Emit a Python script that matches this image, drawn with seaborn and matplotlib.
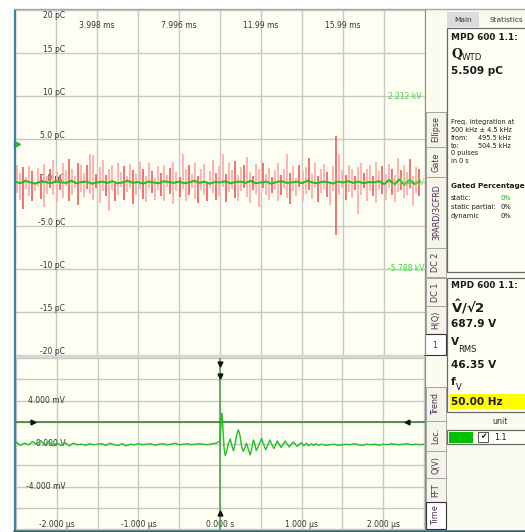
import numpy as np
import matplotlib
matplotlib.use("Agg")
import matplotlib.pyplot as plt
import seaborn as sns
from matplotlib.patches import Rectangle
from matplotlib.transforms import offset_copy

sns.set_theme(style="white")
plt.rcParams["font.family"] = ["DejaVu Sans"]
plt.rcParams["mathtext.fontset"] = "dejavusans"

# ---------------- data ----------------
# PD pulse charges (pC) in 0.15 ms slots over one 20 ms cycle
pulse_slot_ms = 0.15
pulse_up_pc = [
    2.0, 1.1, 1.8, 0.6, 1.9, 1.3, 0.0, 1.7, 1.0, 2.1, 0.7, 1.5,
    2.6, 1.2, 0.9, 2.2, 1.4, 2.7, 1.6, 0.8, 2.3, 2.0, 1.1, 2.0,
    3.3, 3.2, 1.0, 1.8, 2.6, 0.9, 1.5, 2.0, 0.0, 2.3, 1.2, 1.9,
    0.7, 2.1, 1.4, 1.0, 2.4, 1.6, 0.8, 2.2, 1.3, 0.5, 1.9, 1.1,
    2.0, 0.9, 1.7, 2.4, 1.2, 0.6, 3.3, 1.5, 2.0, 1.0, 2.3, 0.8,
    1.6, 2.1, 0.0, 1.3, 2.6, 1.1, 1.9, 3.3, 1.0, 2.2, 1.4, 2.5,
    0.9, 1.8, 2.0, 2.9, 1.2, 0.7, 2.1, 1.5, 2.3, 1.0, 1.7, 0.6,
    1.4, 2.2, 0.9, 1.6, 3.3, 1.1, 1.9, 0.5, 2.0, 1.3, 1.8, 2.8,
    1.0, 2.3, 0.8, 1.5, 2.1, 1.2, 0.0, 1.9, 5.4, 3.3, 1.4, 0.9,
    2.0, 1.6, 0.7, 1.8, 2.2, 1.1, 1.5, 2.0, 0.8, 2.4, 1.3, 1.9,
    1.0, 2.1, 1.6, 0.9, 2.8, 1.4, 2.0, 1.2, 2.7, 0.8, 1.8, 1.5,
]
pulse_down_pc = [
    -1.2, -2.0, -3.1, -0.8, -1.6, -2.2, -1.0, -0.5, -1.9, -2.9, -1.3, -0.7,
    -1.5, -2.3, -0.9, -1.8, -0.4, -2.1, -1.4, -0.6, -2.6, -1.1, -1.7, -0.8,
    -1.3, -2.0, -0.7, -2.4, -1.0, -1.6, -3.3, -0.9, -2.2, -1.5, -0.5, -2.0,
    -1.1, -0.6, -2.5, -1.4, -0.8, -1.9, -2.3, -0.7, -1.2, -2.0, -0.9, -1.6,
    -2.2, -0.5, -1.3, -2.5, -1.0, -1.7, -0.8, -2.1, -1.4, -0.6, -1.9, -2.4,
    -0.9, -1.5, -2.2, -0.7, -1.2, -2.0, -1.6, -0.5, -2.3, -1.1, -0.8, -1.8,
    -2.1, -1.0, -0.6, -1.7, -2.4, -0.9, -1.3, -2.9, -0.7, -1.5, -2.0, -1.2,
    -0.8, -2.2, -1.4, -0.6, -1.8, -2.5, -1.0, -1.6, -0.5, -2.1, -1.3, -0.9,
    -1.9, -0.7, -2.3, -1.2, -0.8, -1.7, -2.6, -1.0, -6.1, -1.5, -0.6, -2.0,
    -1.1, -1.8, -0.9, -3.7, -1.4, -0.7, -2.2, -1.0, -1.6, -2.4, -0.8, -1.3,
    -2.0, -0.6, -1.5, -2.3, -1.1, -0.9, -1.8, -1.4, -0.7, -2.7, -1.2, -1.6,
]

# test voltage trace drawn on the charge scale, 0.25 ms step
volt_step_ms = 0.25
volt_trace_pc = [
    0.1, -0.1, 0.2, 0.0, -0.15, 0.1, 0.05, -0.1, 0.15, 0.0, -0.05, 0.2,
    -0.1, 0.05, 0.1, -0.15, 0.0, 0.1, -0.05, 0.15, -0.1, 0.0, 0.2, -0.05,
    0.05, -0.15, 0.1, 0.0, -0.1, 0.15, 0.05, -0.05, 0.1, -0.1, 0.0, 0.2,
    -0.05, 0.1, -0.15, 0.05, 0.0, 0.15, -0.1, 0.05, 0.1, -0.05, 0.2, -0.1,
    0.0, 0.1, -0.15, 0.05, 0.15, -0.05, 0.0, 0.1, -0.1, 0.2, 0.0, -0.1,
    0.1, 0.05, -0.15, 0.1, 0.0, 0.15, -0.05, 0.1, -0.1, 0.05, 0.0, 0.15,
    -0.2, 0.3, -0.25, 0.35, -0.3, 0.3, -0.2, 0.25,
]

# time-domain PD signal (mV): pre-trigger noise, pulse, tail
pre_t0_us, pre_step_us = -2.5, 0.05
pre_mv = [
    0.2, -0.1, 0.1, -0.05, 0.25, 0.0, 0.35, -0.1, 0.3, -0.15,
    0.1, -0.1, 0.15, -0.15, 0.1, -0.05, 0.0, -0.1, 0.05, -0.05,
    0.0, 0.05, -0.1, 0.1, -0.05, -0.1, 0.05, -0.15, 0.0, -0.05,
    0.05, -0.05, 0.0, 0.05, -0.1, 0.0, 0.05, -0.05, 0.0, 0.1,
    -0.05, 0.0, 0.05, -0.05, 0.0, 0.05, 0.0, -0.05, 0.05, 0.1,
]
pulse_t_us = [
    0.00, 0.01, 0.02, 0.03, 0.04, 0.05, 0.065, 0.08, 0.10, 0.125,
    0.145, 0.165, 0.185, 0.205, 0.225, 0.245, 0.265, 0.285, 0.305, 0.325,
    0.345, 0.37, 0.39, 0.41, 0.425, 0.445, 0.47, 0.51, 0.535, 0.56,
    0.585, 0.61, 0.635, 0.66, 0.68, 0.70, 0.725, 0.75, 0.775, 0.80,
    0.825, 0.85, 0.875, 0.90, 0.925, 0.95, 0.975, 1.0, 1.03, 1.06,
    1.09, 1.12, 1.15, 1.18, 1.21, 1.25, 1.30,
]
pulse_mv = [
    0.3, 1.5, 2.9, 2.3, 0.9, -0.4, -1.05, -0.7, 0.0, 0.5,
    -0.1, -0.6, 0.0, 0.9, 1.35, 0.8, -0.2, -0.65, -0.3, 0.1,
    -0.4, -1.0, -0.4, 0.4, 0.1, -0.6, -0.2, 0.55, 0.0, -0.5,
    -0.1, 0.4, 0.0, -0.4, -0.1, 0.3, 0.0, -0.3, 0.0, 0.3,
    0.0, -0.25, 0.0, 0.2, 0.0, -0.2, 0.0, 0.15, -0.15, 0.1,
    -0.15, 0.05, -0.1, 0.05, -0.1, 0.0, -0.1,
]
tail_t0_us, tail_step_us = 1.35, 0.05
tail_mv = [
    -0.05, 0.0, -0.1, -0.05, 0.0, -0.05, 0.05, -0.05, -0.1, 0.0, -0.05, 0.0,
    -0.1, 0.0, -0.05, 0.05, 0.0, -0.05, 0.0, 0.05, -0.05, 0.0, -0.05, 0.0,
]

top_ytick_labels = ["-20 pC", "-15 pC", "-10 pC", "-5.0 pC", "0.0 pC",
                    "5.0 pC", "10 pC", "15 pC", "20 pC"]
top_ytick_vals = [-20, -15, -10, -5, 0, 5, 10, 15, 20]
top_xtick_labels = ["3.998 ms", "7.996 ms", "11.99 ms", "15.99 ms"]
top_xtick_vals = [4, 8, 12, 16]
bot_ytick_labels = ["4.000 mV", "0.000 V", "-4.000 mV"]
bot_ytick_vals = [4, 0, -4]
bot_xtick_labels = ["-2.000 µs", "-1.000 µs", "0.000 s", "1.000 µs", "2.000 µs"]
bot_xtick_vals = [-2, -1, 0, 1, 2]
kv_labels = ["2.212 kV", "-1.788 kV", "-5.788 kV"]
kv_at_pc = [10, 0, -10]
trigger_level_mv = 2.0

# ---------------- figure ----------------
W, H = 525, 532
fig = plt.figure(figsize=(W / 100, H / 100), dpi=100)
fig.patch.set_facecolor("white")


def px_axes(x0, y0, x1, y1, z=1):
    return fig.add_axes([x0 / W, 1 - y1 / H, (x1 - x0) / W, (y1 - y0) / H], zorder=z)


def pixel_layer(z):
    a = fig.add_axes([0, 0, 1, 1], zorder=z)
    a.set_xlim(0, W)
    a.set_ylim(H, 0)
    a.axis("off")
    a.patch.set_visible(False)
    return a


under = pixel_layer(0)
over = pixel_layer(10)


def rect(a, x0, y0, x1, y1, fc, ec="none", lw=0.8, z=1):
    a.add_patch(Rectangle((x0, y0), x1 - x0, y1 - y0, facecolor=fc,
                          edgecolor=ec, lw=lw, zorder=z))


PLOT_BG = "#fefef2"
GRID = "#c8c8c8"
LABEL = "#333333"
rect(under, 14, 9, 525, 532, "#fbfbef")
rect(under, 15, 354.5, 425, 358.5, "#d6d6d6", z=2)

# ---- top panel: charge vs phase time ----
ax_top = px_axes(15, 9, 425, 355, z=1)
ax_bot = px_axes(15, 358, 425, 530, z=1)
for ax in (ax_top, ax_bot):
    ax.set_facecolor(PLOT_BG)
    for s in ax.spines.values():
        s.set_visible(False)
    ax.tick_params(length=0, labelbottom=False, labelleft=False)
    ax.set_axisbelow(True)

ax_top.set_xlim(0, 20.0)
ax_top.set_ylim(-20, 20.1)
ax_top.set_xticks(np.arange(0, 20.01, 2))
ax_top.set_yticks(np.arange(-20, 20.01, 5))
ax_top.grid(True, color=GRID, lw=1.0)

slot_t = pulse_slot_ms * (np.arange(len(pulse_up_pc)) + 0.5)
up = np.array(pulse_up_pc)
dn = np.array(pulse_down_pc)
dark = (np.arange(len(slot_t)) % 3) == 2
light = ~dark
ax_top.vlines(slot_t[light], dn[light], up[light], colors="#ffaeae", lw=1.3, zorder=3)
ax_top.vlines(slot_t[dark], dn[dark], up[dark], colors="#ef5a5a", lw=1.2, zorder=3)

volt_t = volt_step_ms * np.arange(len(volt_trace_pc))
sns.lineplot(x=volt_t, y=volt_trace_pc, ax=ax_top, color="#1fbf1f", lw=1.4,
             estimator=None, sort=False, zorder=4)
ax_top.plot([0.12], [4.4], marker=">", color="#1fbf1f", ms=4, zorder=5, clip_on=False)

lab_top = offset_copy(ax_top.transData, fig=fig, x=0, y=3.5, units="dots")
for v, s in zip(top_ytick_vals, top_ytick_labels):
    yy = min(v, 18.9)
    ax_top.text(2.44, yy, s, transform=lab_top, ha="right", va="center",
                fontsize=5.5, color=LABEL, zorder=2)
for v, s in zip(top_xtick_vals, top_xtick_labels):
    ax_top.text(v, 18.13, s, ha="center", va="center", fontsize=5.5,
                color=LABEL, zorder=2)
for v, s, c in zip(kv_at_pc, kv_labels, ["#3fd83f", "#9ad86a", "#3fd83f"]):
    ax_top.text(18.2, v, s, ha="left", va="center", fontsize=5.5, color=c,
                zorder=5, clip_on=True)

# ---- bottom panel: time-domain pulse ----
ax_bot.set_xlim(-2.515, 2.515)
ax_bot.set_ylim(-8.05, 7.95)
ax_bot.set_xticks(np.arange(-2.5, 2.51, 0.5))
ax_bot.set_yticks(np.arange(-8, 8.01, 2))
ax_bot.grid(True, color=GRID, lw=1.0)

sig_t = np.concatenate([pre_t0_us + pre_step_us * np.arange(len(pre_mv)),
                        pulse_t_us,
                        tail_t0_us + tail_step_us * np.arange(len(tail_mv))])
sig_mv = np.concatenate([pre_mv, pulse_mv, tail_mv]) - 0.05
for v, s in zip(bot_ytick_vals, bot_ytick_labels):
    ax_bot.text(-1.9, v, s, ha="right", va="center", fontsize=5.5,
                color=LABEL, zorder=2)
for v, s in zip(bot_xtick_vals, bot_xtick_labels):
    ax_bot.text(v, -7.58, s, ha="center", va="center", fontsize=5.5,
                color=LABEL, zorder=2)

ax_bot.axvline(0, color="#3f9f3f", lw=1.1, zorder=3)
ax_bot.axhline(trigger_level_mv, color="#2b7a2b", lw=1.1, zorder=3)
sns.lineplot(x=sig_t, y=sig_mv, ax=ax_bot, color="#22c022", lw=1.0,
             estimator=None, sort=False, zorder=4)
ax_bot.plot([0, 0], [7.45, 6.35], ls="none", marker="v", color="#111111", ms=3.5, zorder=6)
ax_bot.plot([0], [-6.45], ls="none", marker="^", color="#111111", ms=3.5, zorder=6)
ax_bot.plot([-2.29], [trigger_level_mv], ls="none", marker=">", color="#111111", ms=3.5, zorder=6)
ax_bot.plot([2.29], [trigger_level_mv], ls="none", marker="<", color="#111111", ms=3.5, zorder=6)

# ---- window frame ----
over.plot([14.5, 14.5], [9, 532], color="#3f819f", lw=1.6, solid_capstyle="butt")
over.plot([14, 525], [9, 9], color="#98abb2", lw=1.0)
over.plot([14, 525], [531, 531], color="#2e6373", lw=1.8)
over.plot([425, 425], [9, 530], color="#8e8e8e", lw=0.8)

# ---- side tabs ----
TAB_TXT = "#4b2b5c"
upper_tabs = [("Ellipse", 112, 147), ("Gate", 147, 177), ("3PARD/3CFRD", 177, 248),
              ("DC 2", 248, 277), ("DC 1", 278, 306), ("H(Q)", 306, 334)]
lower_tabs = [("Trend", 387, 421), ("Loc.", 421, 451), ("Q(V)", 451, 478),
              ("FFT", 478, 502)]
for name, y0, y1 in upper_tabs + lower_tabs:
    rect(under, 426, y0, 446, y1, "#f5f5e7", ec="#a4a4a4", lw=0.7, z=3)
    under.text(436, (y0 + y1) / 2, name, rotation=90, ha="center", va="center",
               fontsize=5.8, color=TAB_TXT, zorder=4)
rect(under, 424, 334, 446, 355, "#ffffff", ec="#303030", lw=0.8, z=3)
under.text(434.5, 345, "1", ha="center", va="center", fontsize=5.8,
           color=TAB_TXT, zorder=4)
rect(under, 426, 502, 446, 529, "#ffffff", ec="#303030", lw=0.8, z=3)
under.text(436, 515.5, "Time", rotation=90, ha="center", va="center",
           fontsize=5.8, color=TAB_TXT, zorder=4)

# ---- statistics panel ----
rect(under, 447, 12, 479, 27, "#dcdcdc", z=3)
under.text(463, 19.5, "Main", ha="center", va="center", fontsize=5.3, color="#333333", zorder=4)
under.text(506, 19.5, "Statistics", ha="center", va="center", fontsize=5.3, color="#333333", zorder=4)

rect(under, 447, 27.5, 530, 272, "#fffff6", ec="#6a6a6a", lw=0.9, z=3)
rect(under, 447, 278, 530, 412, "#fffff6", ec="#6a6a6a", lw=0.9, z=3)

TX = 451
K = "#1a1a1a"
under.text(TX, 37, "MPD 600 1.1:", fontsize=6.4, fontweight="bold", va="center", color=K, zorder=4)
under.text(TX, 55, "Q", fontsize=9, fontweight="bold", va="center", color=K, zorder=4,
           family="DejaVu Serif")
under.text(462, 57.5, "WTD", fontsize=6.2, va="center", color=K, zorder=4)
under.text(TX, 71, "5.509 pC", fontsize=7.6, fontweight="bold", va="center", color=K, zorder=4)

small = [("Freq. integration at", 122), ("500 kHz ± 4.5 kHz", 130), ("from:", 138),
         ("to:", 146), ("0 pulses", 153.5), ("in 0 s", 161)]
for s, yy in small:
    under.text(TX, yy, s, fontsize=4.7, va="center", color=K, zorder=4)
under.text(478, 138, "495.5 kHz", fontsize=4.7, va="center", color=K, zorder=4)
under.text(478, 146, "504.5 kHz", fontsize=4.7, va="center", color=K, zorder=4)
under.text(TX, 186, "Gated Percentage", fontsize=5.2, fontweight="bold", va="center", color=K, zorder=4)
for s, yy, c in [("static:", 198, "#22aa22"), ("static partial:", 207, K), ("dynamic", 216, K)]:
    under.text(TX, yy, s, fontsize=4.9, va="center", color=K, zorder=4)
    under.text(511, yy, "0%", fontsize=4.9, va="center", ha="right", color=c, zorder=4)

under.text(TX, 286, "MPD 600 1.1:", fontsize=6.4, fontweight="bold", va="center", color=K, zorder=4)
under.text(TX, 307, r"$\mathbf{\hat{V}}$/√2", fontsize=9.5, fontweight="bold",
           va="center", color=K, zorder=4)
under.text(TX, 324, "687.9 V", fontsize=7.6, fontweight="bold", va="center", color=K, zorder=4)
under.text(TX, 342, "V", fontsize=7.6, fontweight="bold", va="center", color=K, zorder=4)
under.text(458, 349, "RMS", fontsize=6.0, va="center", color=K, zorder=4)
under.text(TX, 365, "46.35 V", fontsize=7.6, fontweight="bold", va="center", color=K, zorder=4)
under.text(TX, 382, "f", fontsize=7.6, fontweight="bold", va="center", color=K, zorder=4)
under.text(455.5, 388, "V", fontsize=6.0, va="center", color=K, zorder=4)
rect(under, 450, 394, 525, 409, "#ffff00", z=3.5)
under.text(TX, 402, "50.00 Hz", fontsize=7.6, fontweight="bold", va="center", color=K, zorder=4)

under.text(500, 421, "unit", fontsize=5.6, ha="center", va="center", color="#333333", zorder=4)
rect(under, 447, 430, 530, 444, "#fffff8", ec="#6a6a6a", lw=0.9, z=3)
rect(under, 449, 431.5, 473, 443, "#00c000", z=4)
rect(under, 478, 432, 488, 442, "#ffffff", ec="#555555", lw=0.7, z=4)
under.text(483, 437, "✔", fontsize=5.5, ha="center", va="center", color=K, zorder=5)
under.text(494, 437, "1.1", fontsize=5.8, va="center", color=K, zorder=4)

fig.savefig("out.png", dpi=100, facecolor=fig.get_facecolor())
